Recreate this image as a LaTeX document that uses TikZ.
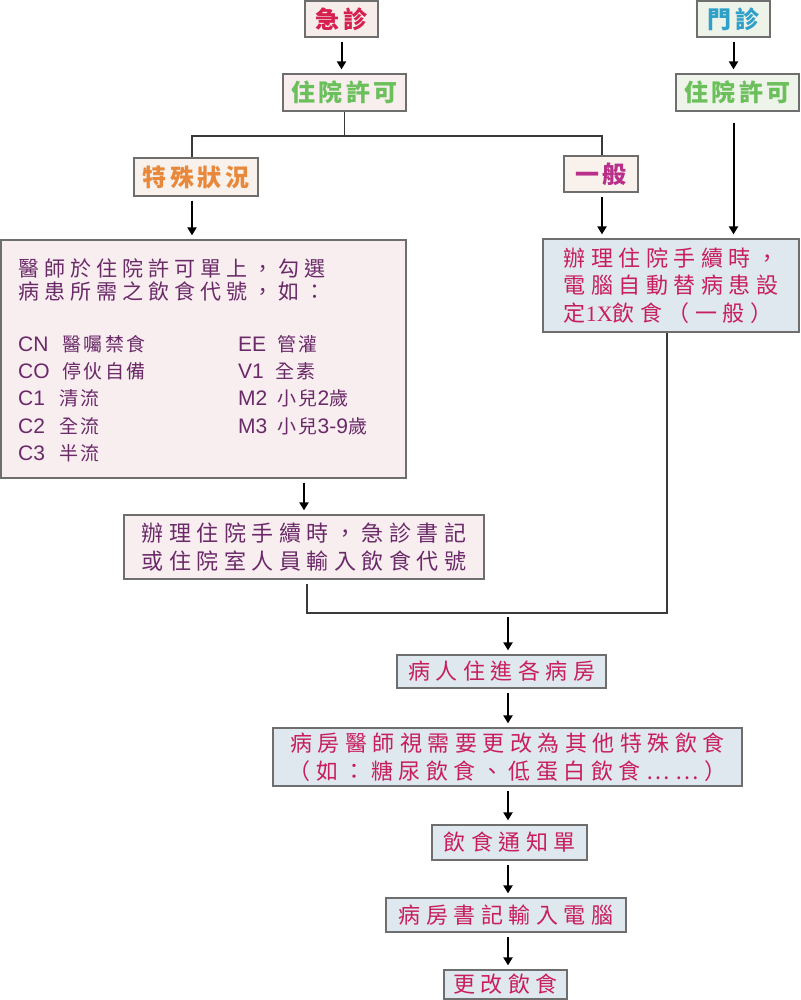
\documentclass[tikz,border=0pt]{standalone}
\usepackage{fontspec}
\usetikzlibrary{arrows.meta}
\newfontfamily\hfont[LetterSpace=15]{Noto Sans CJK TC}
\newfontfamily\cjk[LetterSpace=25]{Noto Sans CJK TC}
\newfontfamily\cjkm[LetterSpace=24]{Noto Sans CJK TC}
\newfontfamily\cjks[LetterSpace=13]{Noto Sans CJK TC}
\newfontfamily\lat{Liberation Sans}
\newfontfamily\latser{Liberation Serif}
\definecolor{frame}{HTML}{6E6E6E}
\definecolor{erfill}{HTML}{F6ECEA}
\definecolor{ertext}{HTML}{D62050}
\definecolor{opfill}{HTML}{EEF3EA}
\definecolor{optext}{HTML}{2FA0C8}
\definecolor{admtext}{HTML}{6CC05C}
\definecolor{pinkfill}{HTML}{F8EEEE}
\definecolor{greenfill}{HTML}{EEF4E9}
\definecolor{sptext}{HTML}{E8883A}
\definecolor{beige}{HTML}{F8F1EC}
\definecolor{gentext}{HTML}{B8308A}
\definecolor{codefill}{HTML}{F8EDEF}
\definecolor{purple}{HTML}{6A2A68}
\definecolor{bluefill}{HTML}{DFE7EF}
\definecolor{crimson}{HTML}{C81E5E}
\definecolor{linkcol}{HTML}{3A3A3A}
\tikzset{
  box/.style={draw=frame, line width=1.2pt, inner sep=0pt, align=center},
  head/.style={box, font=\hfont\bfseries\fontsize{24}{28}\selectfont},
  body/.style={box, font=\cjk\fontsize{22}{27.5}\selectfont, text=crimson, fill=bluefill},
  arr/.style={line width=2pt, black, -{Triangle[length=8pt,width=9pt]}, shorten <=4pt, shorten >=4pt},
  link/.style={line width=1.1pt, draw=linkcol},
  latn/.style={}
}
\newcommand{\lt}[1]{{\lat\fontsize{21}{27.3}\selectfont #1}}
\begin{document}
\begin{tikzpicture}[x=1pt,y=-1pt]
\fill[white] (0,0) rectangle (800,1000);
\useasboundingbox (0,0) rectangle (800,1000);
% top boxes
\node[head, fill=erfill, text=ertext, minimum width=73pt, minimum height=36pt] (er) at (341.5,19) {急診};
\node[head, fill=opfill, text=optext, minimum width=73pt, minimum height=36pt] (op) at (733.5,19) {門診};
\node[head, fill=pinkfill, text=admtext, minimum width=123pt, minimum height=37pt] (adm1) at (344.5,92.5) {住院許可};
\node[head, fill=greenfill, text=admtext, minimum width=123pt, minimum height=37pt] (adm2) at (737.5,92.5) {住院許可};
\node[head, fill=beige, text=sptext, minimum width=124pt, minimum height=38pt] (sp) at (196,177) {特殊狀況};
\node[head, fill=beige, text=gentext, minimum width=74pt, minimum height=36pt] (gen) at (601,174) {一般};
% big code box
\node[box, fill=codefill, minimum width=405pt, minimum height=238pt] (codes) at (203.5,359) {};
\node[anchor=west, inner sep=0pt, align=left, text=purple, font=\cjkm\fontsize{21}{23}\selectfont] (codehead) at (18,280)
  {醫師於住院許可單上，勾選\\病患所需之飲食代號，如：};
\node[anchor=west, inner sep=0pt, align=left, text=purple, font=\cjks\fontsize{19}{27.3}\selectfont] (codeleft) at (18,398.5)
  {\makebox[44pt][l]{\lt{CN}}醫囑禁食\\
   \makebox[44pt][l]{\lt{CO}}停伙自備\\
   \makebox[41pt][l]{\lt{C1}}清流\\
   \makebox[41pt][l]{\lt{C2}}全流\\
   \makebox[41pt][l]{\lt{C3}}半流};
\node[anchor=west, inner sep=0pt, align=left, text=purple, font=\cjks\fontsize{19}{27.3}\selectfont] (coderight) at (238,385)
  {\makebox[39pt][l]{\lt{EE}}管灌\\
   \makebox[37pt][l]{\lt{V1}}全素\\
   \makebox[39pt][l]{\lt{M2}}小兒\lt{2}歲\\
   \makebox[39pt][l]{\lt{M3}}小兒\lt{3-9}歲};
% right auto box
\node[body, align=left, minimum width=256pt, minimum height=93pt] (auto) at (671,285.5)
  {辦理住院手續時，\\電腦自動替病患設\\定{\latser\fontsize{22}{27.5}\selectfont 1X}飲食（一般）};
% process box
\node[body, fill=codefill, text=purple, minimum width=360pt, minimum height=64pt] (proc) at (304,547)
  {辦理住院手續時，急診書記\\或住院室人員輸入飲食代號};
% lower chain
\node[body, minimum width=209pt, minimum height=33pt] (ward) at (501.5,671.5) {病人住進各病房};
\node[body, minimum width=469pt, minimum height=58pt] (change) at (507.5,757) {病房醫師視需要更改為其他特殊飲食\\（如：糖尿飲食、低蛋白飲食……）};
\node[body, minimum width=155pt, minimum height=35pt] (notice) at (509.5,842.5) {飲食通知單};
\node[body, minimum width=240pt, minimum height=34pt] (clerk) at (506,915) {病房書記輸入電腦};
\node[body, minimum width=123pt, minimum height=29pt] (final) at (505.5,984.5) {更改飲食};
% coordinates
\coordinate (spx) at (192,136);
\coordinate (genx) at (602,136);
\coordinate (px) at (307,613);
\coordinate (mx) at (667,613);
\coordinate (axis) at (508,613);
% connectors
\draw[arr] (er.south) -- (er.south |- adm1.north);
\draw[arr] (op.south) -- (op.south |- adm2.north);
\draw[link] (adm1.south) -- (adm1.south |- spx);
\draw[link] (spx |- sp.north) -- (spx) -- (genx) -- (genx |- gen.north);
\draw[arr] (spx |- sp.south) -- (spx |- codes.north);
\draw[arr] (genx |- gen.south) -- (genx |- auto.north);
\draw[arr, shorten <=11pt] (op.south |- adm2.south) -- (op.south |- auto.north);
\draw[arr] (proc.north |- codes.south) -- (proc.north);
\draw[link, line width=1.4pt, shorten <=4pt] (px |- proc.south) -- (px) -- (mx) -- (mx |- auto.south);
\draw[arr] (axis) -- (axis |- ward.north);
\draw[arr] (axis |- ward.south) -- (axis |- change.north);
\draw[arr] (axis |- change.south) -- (axis |- notice.north);
\draw[arr] (axis |- notice.south) -- (axis |- clerk.north);
\draw[arr] (axis |- clerk.south) -- (axis |- final.north);
\end{tikzpicture}
\end{document}
